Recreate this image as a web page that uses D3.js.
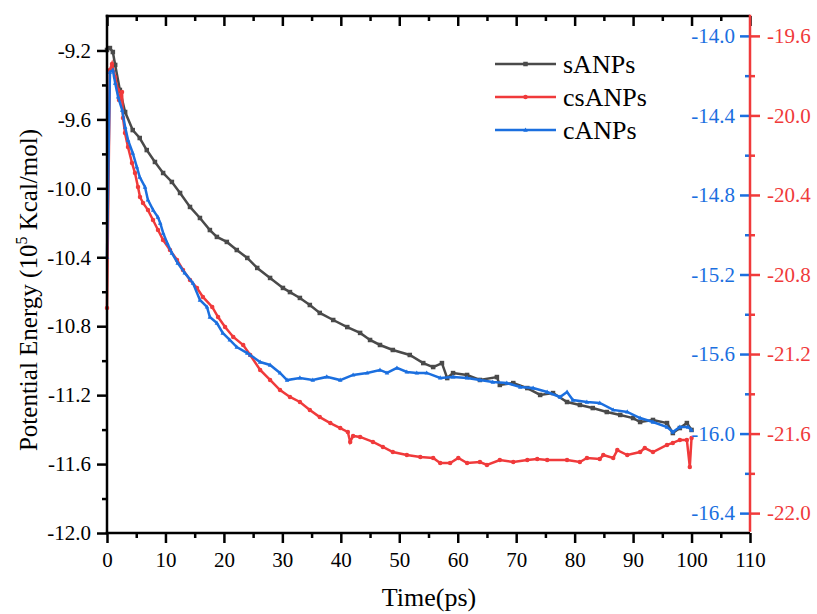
<!DOCTYPE html>
<html>
<head>
<meta charset="utf-8">
<script src="https://cdn.jsdelivr.net/npm/d3@7"></script>
<style>
  html, body { margin: 0; padding: 0; background: #fff; }
  svg { display: block; }
  svg text { font-family: "Liberation Serif", "Times New Roman", serif !important; }
</style>
</head>
<body>
<svg id="chart" width="817" height="614"></svg>
<script>
// ---------- data ----------
const seriesNames = ["sANPs", "csANPs", "cANPs"];

const timeS = [0, 0.5, 1.0, 1.4, 2.2, 3.1, 4.4, 5.6, 6.8, 8.2, 9.6, 11.1, 12.5, 14.2, 15.9, 17.6, 18.8, 20.5, 22.2, 24.0, 25.7, 27.9, 30.1, 31.3, 33.0, 34.7, 36.4, 38.7, 41.1, 43.3, 45.0, 46.7, 48.9, 51.8, 54.1, 55.8, 57.3, 58.2, 59.2, 61.6, 63.8, 66.7, 67.2, 69.5, 71.9, 74.1, 76.3, 78.7, 80.9, 83.1, 85.5, 87.8, 90.0, 91.2, 93.4, 95.8, 96.8, 98.0, 99.2, 100];
const valS = [-9.197, -9.186, -9.209, -9.284, -9.429, -9.557, -9.662, -9.708, -9.778, -9.847, -9.911, -9.963, -10.027, -10.108, -10.172, -10.242, -10.282, -10.311, -10.358, -10.404, -10.462, -10.520, -10.578, -10.602, -10.636, -10.677, -10.723, -10.764, -10.805, -10.839, -10.880, -10.909, -10.938, -10.967, -11.014, -11.037, -11.014, -11.101, -11.072, -11.083, -11.112, -11.095, -11.141, -11.130, -11.159, -11.199, -11.188, -11.240, -11.257, -11.275, -11.298, -11.315, -11.333, -11.356, -11.344, -11.362, -11.420, -11.391, -11.362, -11.402];

const timeCS = [0, 0.5, 0.86, 1.37, 1.88, 2.05, 2.57, 2.74, 3.08, 3.59, 4.28, 4.79, 5.30, 5.65, 6.16, 7.01, 7.87, 8.73, 9.58, 10.78, 11.98, 13.0, 14.2, 15.4, 16.4, 18.0, 19.0, 20.2, 21.6, 23.3, 24.5, 26.2, 27.9, 29.6, 31.3, 33.0, 34.7, 36.4, 38.2, 39.9, 41.2, 41.6, 42.1, 43.3, 45.5, 47.2, 48.9, 51.3, 53.6, 55.8, 57.0, 58.7, 60.1, 61.6, 63.8, 65.0, 67.2, 69.5, 71.9, 73.6, 75.3, 78.7, 80.9, 82.1, 84.3, 84.9, 86.6, 87.3, 89.0, 91.2, 92.0, 93.4, 95.8, 96.8, 98.0, 99.2, 99.7, 100];
const valCS = [-20.968, -19.772, -19.741, -19.807, -19.872, -19.922, -19.882, -20.013, -20.088, -20.159, -20.239, -20.290, -20.360, -20.410, -20.440, -20.476, -20.526, -20.576, -20.626, -20.677, -20.727, -20.777, -20.828, -20.868, -20.913, -20.963, -21.014, -21.064, -21.114, -21.155, -21.205, -21.280, -21.330, -21.381, -21.416, -21.441, -21.481, -21.517, -21.547, -21.572, -21.592, -21.642, -21.612, -21.617, -21.642, -21.667, -21.693, -21.708, -21.718, -21.723, -21.748, -21.748, -21.723, -21.748, -21.743, -21.758, -21.733, -21.743, -21.733, -21.728, -21.733, -21.733, -21.743, -21.723, -21.728, -21.708, -21.723, -21.683, -21.708, -21.693, -21.673, -21.693, -21.657, -21.647, -21.632, -21.632, -21.768, -21.622];

const timeC = [0, 0.5, 1.0, 1.4, 1.9, 2.6, 3.1, 3.6, 4.4, 5.1, 5.6, 6.5, 7.0, 7.9, 8.7, 9.1, 9.6, 10.3, 11.1, 12.1, 13.3, 14.7, 15.9, 17.1, 17.6, 18.8, 19.8, 21.0, 22.2, 24.0, 24.5, 26.2, 27.9, 29.6, 30.8, 33.0, 35.2, 37.6, 39.9, 42.1, 44.5, 46.7, 47.9, 49.6, 51.3, 53.0, 54.7, 57.0, 59.2, 61.6, 63.8, 66.0, 68.4, 70.7, 72.9, 75.3, 77.5, 78.7, 79.7, 82.1, 84.3, 86.6, 89.0, 91.2, 93.4, 95.8, 96.8, 98.0, 99.4, 100];
const valC = [-15.112, -14.182, -14.172, -14.237, -14.307, -14.373, -14.458, -14.524, -14.589, -14.659, -14.710, -14.760, -14.825, -14.876, -14.911, -14.941, -14.991, -15.042, -15.092, -15.142, -15.192, -15.243, -15.328, -15.363, -15.414, -15.444, -15.494, -15.529, -15.565, -15.595, -15.605, -15.640, -15.655, -15.695, -15.731, -15.720, -15.731, -15.715, -15.731, -15.705, -15.695, -15.680, -15.695, -15.670, -15.690, -15.695, -15.695, -15.720, -15.715, -15.720, -15.731, -15.741, -15.746, -15.766, -15.771, -15.791, -15.816, -15.791, -15.831, -15.841, -15.846, -15.881, -15.891, -15.922, -15.942, -15.967, -15.992, -15.967, -15.967, -15.982];

const xTicks = [0, 10, 20, 30, 40, 50, 60, 70, 80, 90, 100, 110];
const xMinorTicks = [5, 15, 25, 35, 45, 55, 65, 75, 85, 95, 105];
const leftTicks = [-12.0, -11.6, -11.2, -10.8, -10.4, -10.0, -9.6, -9.2];
const leftMinorTicks = [-11.8, -11.4, -11.0, -10.6, -10.2, -9.8, -9.4];
const blueTicks = [-16.4, -16.0, -15.6, -15.2, -14.8, -14.4, -14.0];
const blueMinorTicks = [-16.2, -15.8, -15.4, -15.0, -14.6, -14.2];
const redTicks = [-22.0, -21.6, -21.2, -20.8, -20.4, -20.0, -19.6];
const redMinorTicks = [-21.8, -21.4, -21.0, -20.6, -20.2, -19.8];

// ---------- layout ----------
const L = 107, R = 750, T = 16, B = 533;
const GRAY = "#4a4a4a", RED = "#f03a3b", BLUE = "#1b6fdf";
const TICK_FONT = 21;

const svg = d3.select("#chart");
const x = d3.scaleLinear().domain([0, 110]).range([L, R]);
const yLeft = d3.scaleLinear().domain([-12, -9]).range([B, T]);
const yBlue = d3.scaleLinear().domain([-16.5, -13.9]).range([B, T]);
const yRed = d3.scaleLinear().domain([-22.1, -19.5]).range([B, T]);
const fmt1 = d => d.toFixed(1);

// ---------- series ----------
const series = [
  { name: seriesNames[0], t: timeS, v: valS, y: yLeft, color: GRAY, marker: "square" },
  { name: seriesNames[1], t: timeCS, v: valCS, y: yRed, color: RED, marker: "circle" },
  { name: seriesNames[2], t: timeC, v: valC, y: yBlue, color: BLUE, marker: "triangle" }
];

function drawMarker(g, type, cx, cy, color, s) {
  if (type === "square") {
    g.append("rect").attr("x", cx - s / 2).attr("y", cy - s / 2).attr("width", s).attr("height", s).attr("fill", color);
  } else if (type === "circle") {
    g.append("circle").attr("cx", cx).attr("cy", cy).attr("r", s / 2).attr("fill", color);
  } else {
    const h = s * 0.9;
    g.append("path").attr("d", `M${cx},${cy - h / 1.6}L${cx + s / 2},${cy + h / 2.4}L${cx - s / 2},${cy + h / 2.4}Z`).attr("fill", color);
  }
}

series.forEach(s => {
  const pts = s.t.map((t, i) => [t, s.v[i]]);
  const line = d3.line().x(d => x(d[0])).y(d => s.y(d[1]));
  const g = svg.append("g");
  g.append("path").datum(pts).attr("d", line).attr("fill", "none")
    .attr("stroke", s.color).attr("stroke-width", 2.5).attr("stroke-linejoin", "miter");
  pts.forEach(d => drawMarker(g, s.marker, x(d[0]), s.y(d[1]), s.color, 4.5));
});

// ---------- axes ----------
function styleAxis(g, color) {
  g.selectAll(".domain").remove();
  g.selectAll(".tick line").attr("stroke", color).attr("stroke-width", 2.5);
  g.selectAll(".tick text").attr("fill", color).attr("font-size", TICK_FONT);
}

const gxB = svg.append("g").attr("transform", `translate(0,${B})`)
  .call(d3.axisBottom(x).tickValues(xTicks).tickSize(10).tickPadding(9).tickFormat(d => d));
styleAxis(gxB, "#000");
const gxBm = svg.append("g").attr("transform", `translate(0,${B})`)
  .call(d3.axisBottom(x).tickValues(xMinorTicks).tickSize(5).tickFormat(""));
styleAxis(gxBm, "#000");

const gxT = svg.append("g").attr("transform", `translate(0,${T})`)
  .call(d3.axisBottom(x).tickValues(xTicks).tickSize(10).tickFormat(""));
styleAxis(gxT, "#000");
const gxTm = svg.append("g").attr("transform", `translate(0,${T})`)
  .call(d3.axisBottom(x).tickValues(xMinorTicks).tickSize(5).tickFormat(""));
styleAxis(gxTm, "#000");

const gyL = svg.append("g").attr("transform", `translate(${L},0)`)
  .call(d3.axisLeft(yLeft).tickValues(leftTicks).tickSize(10).tickPadding(6).tickFormat(fmt1));
styleAxis(gyL, "#000");
const gyLm = svg.append("g").attr("transform", `translate(${L},0)`)
  .call(d3.axisLeft(yLeft).tickValues(leftMinorTicks).tickSize(5).tickFormat(""));
styleAxis(gyLm, "#000");

const gyBl = svg.append("g").attr("transform", `translate(${R},0)`)
  .call(d3.axisLeft(yBlue).tickValues(blueTicks).tickSize(10).tickPadding(5).tickFormat(fmt1));
styleAxis(gyBl, BLUE);
const gyBlm = svg.append("g").attr("transform", `translate(${R},0)`)
  .call(d3.axisLeft(yBlue).tickValues(blueMinorTicks).tickSize(5).tickFormat(""));
styleAxis(gyBlm, BLUE);

const gyR = svg.append("g").attr("transform", `translate(${R},0)`)
  .call(d3.axisRight(yRed).tickValues(redTicks).tickSize(10).tickPadding(7).tickFormat(fmt1));
styleAxis(gyR, RED);
const gyRm = svg.append("g").attr("transform", `translate(${R},0)`)
  .call(d3.axisRight(yRed).tickValues(redMinorTicks).tickSize(5).tickFormat(""));
styleAxis(gyRm, RED);

svg.append("line").attr("x1", L - 1.25).attr("x2", R).attr("y1", B).attr("y2", B).attr("stroke", "#000").attr("stroke-width", 2.5);
svg.append("line").attr("x1", L - 1.25).attr("x2", R).attr("y1", T).attr("y2", T).attr("stroke", "#000").attr("stroke-width", 2.5);
svg.append("line").attr("x1", L).attr("x2", L).attr("y1", T - 1.25).attr("y2", B + 1.25).attr("stroke", "#000").attr("stroke-width", 2.5);
svg.append("line").attr("x1", R).attr("x2", R).attr("y1", T - 1.25).attr("y2", B - 1.25).attr("stroke", RED).attr("stroke-width", 2.5);

// axis titles
svg.append("text").attr("x", 429).attr("y", 606).attr("text-anchor", "middle")
  .attr("font-size", 26).attr("fill", "#000").text("Time(ps)");

const yt = svg.append("text").attr("transform", "translate(37,290) rotate(-90)")
  .attr("text-anchor", "middle").attr("font-size", 25).attr("fill", "#000");
yt.append("tspan").text("Potential Energy (10");
yt.append("tspan").attr("font-size", 16).attr("dy", -10).text("5");
yt.append("tspan").attr("dy", 10).text(" Kcal/mol)");

// ---------- legend ----------
const legY = [64, 97, 130];
series.forEach((s, i) => {
  const g = svg.append("g");
  g.append("line").attr("x1", 495).attr("x2", 556).attr("y1", legY[i]).attr("y2", legY[i])
    .attr("stroke", s.color).attr("stroke-width", 2.5);
  drawMarker(g, s.marker, 525.5, legY[i], s.color, 4.5);
  g.append("text").attr("x", 563).attr("y", legY[i] + 9).attr("font-size", 26).attr("fill", "#000").text(s.name);
});
</script>
</body>
</html>
